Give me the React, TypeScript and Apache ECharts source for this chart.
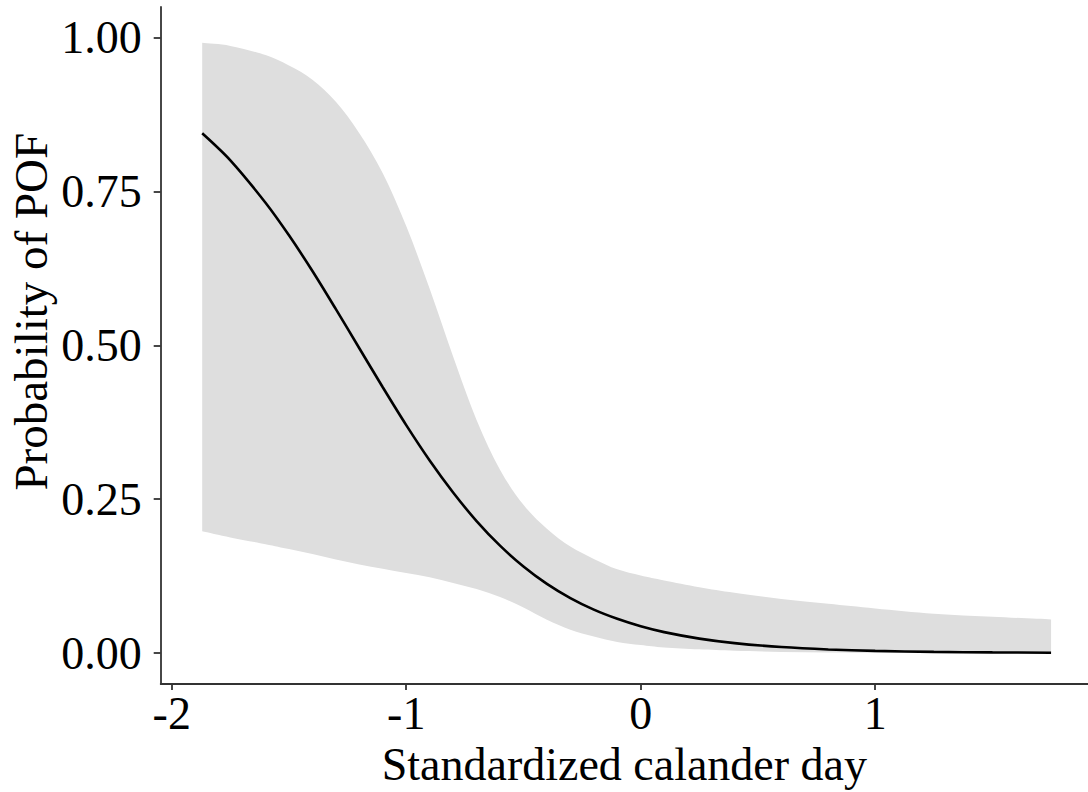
import React, { useEffect, useRef } from "react";
import * as echarts from "echarts";

// Standardized calendar day (x positions of the fitted curve and ribbon)
const dayValues = [
  -1.87, -1.75, -1.6, -1.5, -1.4, -1.3, -1.2, -1.1, -1.0, -0.9, -0.8, -0.7,
  -0.6, -0.5, -0.4, -0.3, -0.2, -0.1, 0, 0.1, 0.25, 0.4, 0.6, 0.8, 1.0, 1.25,
  1.5, 1.75,
];
// Fitted probability of POF
const fitValues = [
  0.845, 0.801, 0.732, 0.679, 0.621, 0.559, 0.4955, 0.432, 0.3705, 0.313,
  0.261, 0.2145, 0.1745, 0.1407, 0.1124, 0.0893, 0.0705, 0.0556, 0.0435, 0.034,
  0.0234, 0.0161, 0.0097, 0.0058, 0.0035, 0.0019, 0.001, 0.0005,
];
// Upper confidence bound
const upperValues = [
  0.992, 0.987, 0.972, 0.955, 0.932, 0.896, 0.845, 0.78, 0.694, 0.592, 0.482,
  0.379, 0.298, 0.241, 0.202, 0.173, 0.153, 0.136, 0.126, 0.118, 0.107, 0.098,
  0.088, 0.08, 0.0725, 0.064, 0.059, 0.0547,
];
// Lower confidence bound
const lowerValues = [
  0.198, 0.188, 0.177, 0.169, 0.161, 0.152, 0.144, 0.137, 0.13, 0.123, 0.114,
  0.104, 0.091, 0.074, 0.054, 0.038, 0.027, 0.018, 0.013, 0.009, 0.006, 0.0036,
  0.0018, 0.001, 0.0006, 0.0003, 0.0002, 0.0001,
];
const xTicks = [-2, -1, 0, 1];
const yTicks = [0, 0.25, 0.5, 0.75, 1];

const FONT = '"Liberation Serif", "Times New Roman", serif';

// Catmull-Rom smoothed path segments through pixel points (continuing from the first point)
function smoothSegments(pts: number[][]): string {
  let d = "";
  const n = pts.length;
  for (let i = 0; i < n - 1; i++) {
    const p0 = pts[Math.max(0, i - 1)];
    const p1 = pts[i];
    const p2 = pts[i + 1];
    const p3 = pts[Math.min(n - 1, i + 2)];
    const c1x = p1[0] + (p2[0] - p0[0]) / 6;
    const c1y = p1[1] + (p2[1] - p0[1]) / 6;
    const c2x = p2[0] - (p3[0] - p1[0]) / 6;
    const c2y = p2[1] - (p3[1] - p1[1]) / 6;
    d += ` C${c1x},${c1y} ${c2x},${c2y} ${p2[0]},${p2[1]}`;
  }
  return d;
}

export default function App() {
  const ref = useRef<HTMLDivElement>(null);

  useEffect(() => {
    if (!ref.current) return;
    const chart = echarts.init(ref.current, undefined, { renderer: "svg" });

    const bandData = dayValues.map((x, i) => [x, lowerValues[i], upperValues[i]]);
    const lineData = dayValues.map((x, i) => [x, fitValues[i]]);

    chart.setOption({
      animation: false,
      backgroundColor: "#ffffff",
      textStyle: { fontFamily: FONT },
      grid: { left: 160.7, top: 7, right: 0, bottom: 105.3, containLabel: false },
      xAxis: {
        type: "value",
        min: -2.047,
        max: 1.9075,
        name: "Standardized calander day",
        nameLocation: "middle",
        nameGap: 43,
        nameTextStyle: { fontFamily: FONT, fontSize: 46, color: "#000" },
        splitLine: { show: false },
        axisLine: { show: true, onZero: false, lineStyle: { color: "#333", width: 1.8 } },
        axisTick: {
          show: true,
          length: 6,
          customValues: xTicks,
          lineStyle: { color: "#333", width: 1.8 },
        },
        axisLabel: {
          customValues: xTicks,
          margin: 6,
          fontFamily: FONT,
          fontSize: 46,
          color: "#000",
          formatter: (v: number) => String(v),
        },
      },
      yAxis: {
        type: "value",
        min: -0.0505,
        max: 1.0502,
        splitLine: { show: false },
        axisLine: { show: true, onZero: false, lineStyle: { color: "#333", width: 1.8 } },
        axisTick: {
          show: true,
          length: 7,
          customValues: yTicks,
          lineStyle: { color: "#333", width: 1.8 },
        },
        axisLabel: {
          customValues: yTicks,
          margin: 19,
          fontFamily: FONT,
          fontSize: 46,
          color: "#000",
          formatter: (v: number) => v.toFixed(2),
        },
      },
      graphic: [
        {
          type: "text",
          x: 31,
          y: 311.7,
          rotation: Math.PI / 2,
          style: {
            text: "Probability of POF",
            fontFamily: FONT,
            fontSize: 47,
            fill: "#000",
            align: "center",
            verticalAlign: "middle",
            textAlign: "center",
            textVerticalAlign: "middle",
          },
        },
      ],
      series: [
        {
          type: "custom",
          name: "95% CI",
          silent: true,
          data: bandData,
          encode: { x: 0, y: [1, 2] },
          renderItem: (params: any, api: any) => {
            if (params.dataIndex !== 0) return null;
            const up = dayValues.map((x, i) => api.coord([x, upperValues[i]]));
            const lo = dayValues
              .map((x, i) => api.coord([x, lowerValues[i]]))
              .reverse();
            const d =
              `M${up[0][0]},${up[0][1]}` +
              smoothSegments(up) +
              ` L${lo[0][0]},${lo[0][1]}` +
              smoothSegments(lo) +
              " Z";
            return {
              type: "path",
              shape: { pathData: d },
              style: { fill: "#dedede", stroke: "none" },
            };
          },
          z: 1,
        },
        {
          type: "line",
          name: "Fit",
          data: lineData,
          smooth: 0.3,
          symbol: "none",
          lineStyle: { color: "#000", width: 2.6 },
          z: 3,
        },
      ],
    });

    return () => chart.dispose();
  }, []);

  return (
    <div
      ref={ref}
      style={{ position: "fixed", left: 0, top: 0, width: 1088, height: 792 }}
    />
  );
}
